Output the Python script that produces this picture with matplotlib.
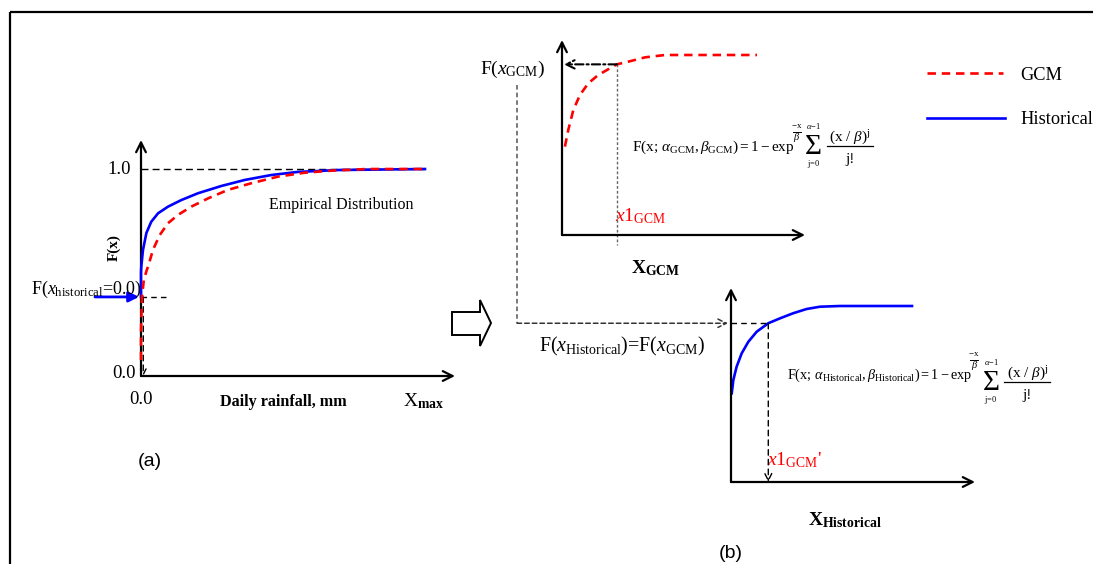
import matplotlib
matplotlib.use("Agg")
import matplotlib.pyplot as plt
from matplotlib.patches import Polygon

plt.rcParams['font.family'] = ['Liberation Serif', 'DejaVu Serif']
plt.rcParams['mathtext.fontset'] = 'custom'
plt.rcParams['mathtext.rm'] = 'Liberation Serif'
plt.rcParams['mathtext.it'] = 'Liberation Serif:italic'
plt.rcParams['mathtext.bf'] = 'Liberation Serif:bold'

# ---- (a) empirical CDFs of daily rainfall (x as % of X_max) ----
emp_hist_x = [0, 0, 0.1, 0.7, 1.9, 3.6, 6.0, 9.5, 14.2, 20.1, 28.3, 36.5, 45.9, 55.3, 64.7, 69.4, 100]
emp_hist_F = [0.382, 0.50, 0.528, 0.609, 0.691, 0.745, 0.786, 0.818, 0.850, 0.883, 0.918, 0.947,
              0.971, 0.986, 0.992, 0.995, 1.0]
emp_gcm_x = [0, 0, 0.35, 1.0, 2.1, 2.5, 4.2, 6.6, 9.5, 13.0, 17.7, 23.6, 30.6, 38.8, 48.2, 57.6,
             67.0, 79.6, 100]
emp_gcm_F = [0.077, 0.22, 0.382, 0.464, 0.515, 0.528, 0.609, 0.681, 0.738, 0.778, 0.818, 0.858,
             0.899, 0.931, 0.963, 0.982, 0.992, 1.0, 1.0]
dry_prob = 0.382

# ---- (b) fitted gamma CDFs ----
gcm_x = [1.5, 3.2, 5.8, 9.2, 13.5, 18.6, 28.1, 34.0, 42.6, 52.8, 100]
gcm_F = [0.491, 0.583, 0.694, 0.778, 0.843, 0.889, 0.948, 0.963, 0.987, 1.0, 1.0]
hist_x = [0.4, 1.3, 3.1, 5.9, 9.6, 14.2, 20.6, 27.1, 34.4, 41.8, 49.2, 60.2, 100]
hist_F = [0.504, 0.580, 0.655, 0.731, 0.797, 0.854, 0.902, 0.930, 0.959, 0.983, 0.996, 1.0, 1.0]
x1_gcm = 28.1
x1_hist = 20.6

W, H = 1093, 564
RED, BLUE = '#ff0000', '#0000ff'
fig = plt.figure(figsize=(W / 100, H / 100), dpi=100)
renderer = fig.canvas.get_renderer()

# overlay in pixel units for frame, labels and connectors
ov = fig.add_axes([0, 0, 1, 1])
ov.set_xlim(0, W)
ov.set_ylim(H, 0)
ov.axis('off')


def panel(left, right, top, bottom, x0px, x100px, f0px, f1px):
    """Axes whose data x 0..100 and F 0..1 land on the given pixel spans."""
    ax = fig.add_axes([left / W, 1 - bottom / H, (right - left) / W, (bottom - top) / H])
    ax.patch.set_alpha(0)
    ax.axis('off')
    sx = (x100px - x0px) / 100.0
    sy = (f0px - f1px)
    ax.set_xlim(0, (right - left) / sx)
    ax.set_ylim(0, (bottom - top) / sy)
    xe, ye = ax.get_xlim()[1], ax.get_ylim()[1]
    arr = dict(arrowstyle='->,head_length=0.7,head_width=0.35', lw=1.6, color='k',
               shrinkA=0, shrinkB=0)
    ax.annotate('', xy=(xe, 0), xytext=(0, 0), arrowprops=arr, annotation_clip=False)
    ax.annotate('', xy=(0, ye), xytext=(0, 0), arrowprops=arr, annotation_clip=False)
    return ax


def to_px(ax, x, y):
    return ov.transData.inverted().transform(ax.transData.transform((x, y)))


def gamma_cdf_formula(x, yc, sub, dy, size):
    """F(x; a, b) = 1 - exp^(-x/b) * sum_{j=0}^{a-1} (x/b)^j / j!"""
    head = ov.text(x, yc, r'$\mathrm{F(x;}\,\alpha_{\mathrm{%s}},\beta_{\mathrm{%s}})=1-\mathrm{exp}$'
                   % (sub, sub), ha='left', va='center', fontsize=size)
    e = head.get_window_extent(renderer).x1 - 4
    # exponent -x/beta
    ov.text(e + 6, yc - 21, r'$-\mathrm{x}$', ha='center', va='center', fontsize=6.5)
    ov.plot([e + 2, e + 10], [yc - 15.5, yc - 15.5], color='k', lw=0.7)
    ov.text(e + 6, yc - 10, r'$\beta$', ha='center', va='center', fontsize=7.5)
    # summation with limits
    ov.text(e + 23, yc + dy, '\u03a3', ha='center', va='center', fontsize=21)
    ov.text(e + 23, yc + dy - 21, r'$\alpha\!-\!1$', ha='center', va='center', fontsize=6)
    ov.text(e + 23, yc + dy + 17, r'$\mathrm{j\!=\!0}$', ha='center', va='center', fontsize=6)
    # (x/beta)^j / j!
    ov.text(e + 59, yc + dy - 9, r'(x / $\beta$)$^{\mathrm{j}}$', ha='center', va='center',
            fontsize=11)
    ov.plot([e + 36, e + 82], [yc + dy - 1.5, yc + dy - 1.5], color='k', lw=0.9)
    ov.text(e + 59, yc + dy + 12, 'j!', ha='center', va='center', fontsize=11)


# ---------------- panel (a) ----------------
axa = panel(141, 455, 140, 376, 141, 425, 376, 169)
axa.plot([0, 100], [1, 1], color='k', lw=1.0, ls=(0, (5, 3)), clip_on=False)
axa.plot(emp_hist_x, emp_hist_F, color=BLUE, lw=1.9, clip_on=False, zorder=3)
axa.plot(emp_gcm_x, emp_gcm_F, color=RED, lw=1.9, ls=(0, (3.2, 2.2)), clip_on=False, zorder=4)
# dry-day probability marker
axa.plot([0, 9], [dry_prob, dry_prob], color='k', lw=1.0, ls=(0, (4, 3)), clip_on=False)
axa.annotate('', xy=(0.8, 0), xytext=(0.8, dry_prob),
             arrowprops=dict(arrowstyle='->,head_length=0.4,head_width=0.2', lw=1.0,
                             ls=(0, (4, 3)), color='k', shrinkA=0, shrinkB=0),
             annotation_clip=False)
pa = to_px(axa, 0, dry_prob)
ov.annotate('', xy=(pa[0] - 2, pa[1]), xytext=(95, pa[1]),
            arrowprops=dict(arrowstyle='-|>,head_length=0.6,head_width=0.3', lw=2.0,
                            color=BLUE, shrinkA=0, shrinkB=0))

ov.text(131, 170, '1.0', ha='right', va='center', fontsize=13.5)
ov.text(136, 374, '0.0', ha='right', va='center', fontsize=13.5)
ov.text(141, 400, '0.0', ha='center', va='center', fontsize=13.5)
ov.text(283, 402, 'Daily rainfall, mm', ha='center', va='center', fontsize=11.6, fontweight='bold')
ov.text(403, 401, r'X$_{\mathbf{max}}$', ha='left', va='center', fontsize=14)
ov.text(114, 248, 'F(x)', ha='center', va='center', fontsize=11, fontweight='bold', rotation=90)
ov.text(269, 205, 'Empirical Distribution', ha='left', va='center', fontsize=11.5)
ov.text(31, 289, r'F($x_{\mathrm{historical}}$=0.0)', ha='left', va='center', fontsize=13)
ov.text(150, 462, '(a)', ha='center', va='center', fontsize=14, family='Liberation Sans')

# ---------------- panel (b) GCM ----------------
axg = panel(562, 805, 40, 235, 562, 757, 235, 55)
axg.plot(gcm_x, gcm_F, color=RED, lw=1.9, ls=(0, (3.2, 2.2)), clip_on=False)
Fg = gcm_F[gcm_x.index(x1_gcm)]
axg.annotate('', xy=(1, Fg), xytext=(x1_gcm, Fg),
             arrowprops=dict(arrowstyle='->,head_length=0.6,head_width=0.3', lw=1.5,
                             ls=(0, (4, 1.5, 1, 1.5)), color='k', shrinkA=0, shrinkB=0),
             annotation_clip=False)
axg.plot([x1_gcm, x1_gcm], [Fg, -0.055], color='#666666', lw=1.0, ls=(0, (2, 1.5)),
         clip_on=False)

# ---------------- panel (b) Historical ----------------
axh = panel(731, 975, 288, 482, 731, 912, 482, 306)
axh.plot(hist_x, hist_F, color=BLUE, lw=1.9, clip_on=False)
Fh = hist_F[hist_x.index(x1_hist)]
axh.plot([0, x1_hist], [Fh, Fh], color='k', lw=1.0, ls=(0, (4, 3)), clip_on=False)
axh.annotate('', xy=(x1_hist, 0), xytext=(x1_hist, Fh),
             arrowprops=dict(arrowstyle='->,head_length=0.5,head_width=0.25', lw=1.0,
                             ls=(0, (4, 3)), color='k', shrinkA=0, shrinkB=0),
             annotation_clip=False)

# connector from F(x_GCM) to the historical CDF
ph = to_px(axh, 0, Fh)
ov.plot([517, 517], [85, ph[1]], color='#555555', lw=1.1, ls=(0, (3, 2)))
ov.annotate('', xy=(ph[0] - 3, ph[1]), xytext=(517, ph[1]),
            arrowprops=dict(arrowstyle='->,head_length=0.6,head_width=0.3', lw=1.1,
                            ls=(0, (3, 2)), color='#333333', shrinkA=0, shrinkB=0))

# hollow block arrow between (a) and (b)
ov.add_patch(Polygon([(452, 312), (480, 312), (480, 300), (491, 323), (480, 346),
                      (480, 335), (452, 335)], closed=True, fc='white', ec='k', lw=1.4))

gamma_cdf_formula(632, 147, 'GCM', 0, 11)
gamma_cdf_formula(787, 375, 'Historical', 8, 10.3)

ov.text(480, 69, r'F($x_{\mathrm{GCM}}$)', ha='left', va='center', fontsize=14)
ov.text(615, 216, r'$x$1$_{\mathrm{GCM}}$', ha='left', va='center', fontsize=14, color=RED)
ov.text(656, 268, r'$\mathbf{X_{GCM}}$', ha='center', va='center', fontsize=14)
ov.text(539, 346, r'F($x_{\mathrm{Historical}}$)=F($x_{\mathrm{GCM}}$)', ha='left', va='center',
        fontsize=14.3)
ov.text(767, 460, r"$x$1$_{\mathrm{GCM}}$'", ha='left', va='center', fontsize=14, color=RED)
ov.text(845, 520, r'$\mathbf{X_{Historical}}$', ha='center', va='center', fontsize=14)
ov.text(731, 553, '(b)', ha='center', va='center', fontsize=14, family='Liberation Sans')

# legend
ov.plot([927, 1003], [73, 73], color=RED, lw=1.9, ls=(0, (3.2, 2.2)))
ov.plot([927, 1005], [118, 118], color=BLUE, lw=1.9)
ov.text(1020, 75, 'GCM', ha='left', va='center', fontsize=13.2)
ov.text(1020, 119, 'Historical', ha='left', va='center', fontsize=13.2)

# outer frame
ov.plot([10, W], [12, 12], color='k', lw=1.6, solid_capstyle='butt')
ov.plot([10, 10], [12, H], color='k', lw=1.6, solid_capstyle='butt')

fig.savefig('out.png', dpi=100)
